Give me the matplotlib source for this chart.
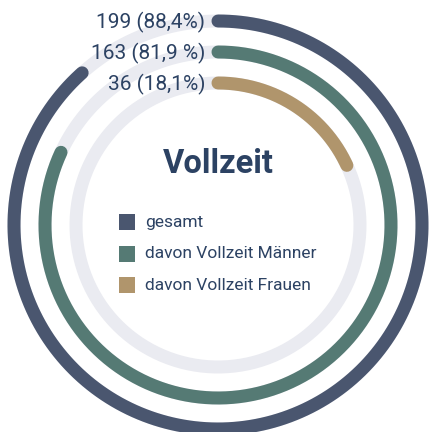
import numpy as np
from matplotlib import pyplot as plt

### Data ###
labels = ['gesamt', 'davon Vollzeit Männer', 'davon Vollzeit Frauen']
counts = [199, 163, 36]
shares = [88.4, 81.9, 18.1]
value_texts = ['199 (88,4%)', '163 (81,9 %)', '36 (18,1%)']
colors = ['#4a566f', '#557a74', '#b0956c']
title = 'Vollzeit'
##############

TRACK = '#eaebf1'
TEXT = '#2c4263'
FONT = ['Roboto', 'DejaVu Sans']

W, H = 430, 432
cx, cy = 218, 225
radii = [204, 173, 142]
lw = 13 * 72 / 100  # 13 px stroke

fig = plt.figure(figsize=(W / 100, H / 100), dpi=100)
ax = fig.add_axes((0, 0, 1, 1))
ax.set_xlim(0, W)
ax.set_ylim(H, 0)
ax.set_aspect('equal')
ax.axis('off')


def arc(r, frac):
    # clockwise from 12 o'clock, y axis points down
    t = np.linspace(0, 2 * np.pi * frac, 400)
    return cx + r * np.sin(t), cy - r * np.cos(t)


for r, share, col, txt in zip(radii, shares, colors, value_texts):
    x, y = arc(r, 1.0)
    ax.plot(x, y, color=TRACK, lw=lw, solid_capstyle='butt', zorder=1)
    x, y = arc(r, share / 100)
    ax.plot(x, y, color=col, lw=lw, solid_capstyle='round', zorder=2)
    ax.text(cx - 13, cy - r + 1, txt, ha='right', va='center', color=TEXT,
            fontsize=15, family=FONT, zorder=3)

ax.text(cx, 164, title, ha='center', va='center', color=TEXT,
        fontsize=23.5, fontweight='bold', family=FONT)

for i, (lab, col) in enumerate(zip(labels, colors)):
    ly = 222 + i * 31.5
    ax.add_patch(plt.Rectangle((119, ly - 8), 16, 16, color=col, lw=0))
    ax.text(145, ly, lab, ha='left', va='center', color=TEXT,
            fontsize=12.5, family=FONT)

fig.savefig('out.png', dpi=100)
